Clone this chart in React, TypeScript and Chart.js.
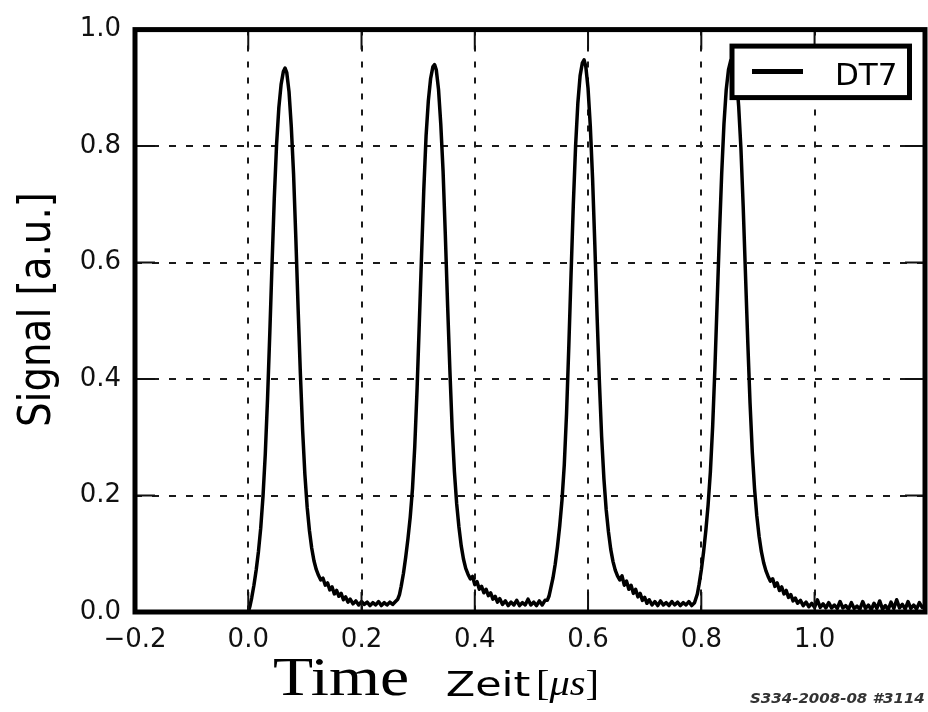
import React, { useEffect, useRef } from "react";
import { Chart, registerables } from "chart.js";

Chart.register(...registerables);

// ---- data ----
const seriesLabel = "DT7";
const xTitle = "Zeit";
const xUnit = "μs";
const xTitleExtra = "Time";
const yTitle = "Signal [a.u.]";
const stampText = "S334-2008-08 #3114";

const baseTime = [-0.2, -0.1, -0.002];
const baseSignal = [0.0, 0.0, 0.0];

const pulse1Time = [
  0.000, 0.003, 0.006,
  0.010, 0.014, 0.018, 0.022, 0.026, 0.030, 0.034, 0.038, 0.042, 0.046, 0.050, 0.054, 0.058, 0.062,
  0.065, 0.068,
  0.072, 0.076, 0.080, 0.084, 0.088, 0.092, 0.096, 0.100, 0.104, 0.108, 0.112, 0.116, 0.120, 0.124,
  0.128, 0.132, 0.136, 0.140, 0.144, 0.148, 0.152, 0.156, 0.160, 0.164, 0.168, 0.172, 0.176, 0.180,
  0.185, 0.190, 0.195, 0.200, 0.205, 0.210, 0.215, 0.220, 0.225, 0.230, 0.235, 0.240, 0.245, 0.250, 0.255, 0.260,
];
const pulse1Signal = [
  0.000, 0.010, 0.024,
  0.046, 0.072, 0.104, 0.144, 0.198, 0.270, 0.365, 0.478, 0.598, 0.712, 0.803, 0.866, 0.906, 0.928,
  0.934, 0.926,
  0.893, 0.833, 0.752, 0.642, 0.522, 0.410, 0.312, 0.236, 0.180, 0.140, 0.110, 0.088, 0.073, 0.063,
  0.055, 0.058, 0.046, 0.050, 0.038, 0.043, 0.031, 0.037, 0.027, 0.032, 0.021, 0.026, 0.017, 0.022,
  0.014, 0.019, 0.012, 0.018, 0.013, 0.017, 0.011, 0.016, 0.012, 0.018, 0.011, 0.016, 0.012, 0.017, 0.013, 0.018,
];

const pulse2Time = [
  0.264, 0.267, 0.270,
  0.274, 0.278, 0.282, 0.286, 0.290, 0.294, 0.298, 0.302, 0.306, 0.310, 0.314, 0.318, 0.322, 0.326,
  0.329, 0.332,
  0.336, 0.340, 0.344, 0.348, 0.352, 0.356, 0.360, 0.364, 0.368, 0.372, 0.376, 0.380, 0.384, 0.388,
  0.392, 0.396, 0.400, 0.404, 0.408, 0.412, 0.416, 0.420, 0.424, 0.428, 0.432, 0.436, 0.440, 0.444,
  0.449, 0.454, 0.459, 0.464, 0.469, 0.474, 0.479, 0.484, 0.489, 0.494, 0.499, 0.504, 0.509, 0.514, 0.519, 0.524,
];
const pulse2Signal = [
  0.022, 0.030, 0.044,
  0.066, 0.094, 0.126, 0.163, 0.212, 0.284, 0.380, 0.495, 0.612, 0.726, 0.818, 0.878, 0.916, 0.936,
  0.940, 0.931,
  0.897, 0.837, 0.757, 0.647, 0.527, 0.416, 0.316, 0.241, 0.186, 0.146, 0.114, 0.091, 0.075, 0.065,
  0.057, 0.061, 0.047, 0.052, 0.039, 0.044, 0.033, 0.039, 0.028, 0.033, 0.022, 0.027, 0.017, 0.023,
  0.013, 0.019, 0.011, 0.017, 0.012, 0.020, 0.011, 0.016, 0.012, 0.022, 0.012, 0.017, 0.011, 0.019, 0.012, 0.020,
];

const pulse3Time = [
  0.528, 0.531, 0.534,
  0.538, 0.542, 0.546, 0.550, 0.554, 0.558, 0.562, 0.566, 0.570, 0.574, 0.578, 0.582, 0.586, 0.590,
  0.593, 0.596,
  0.600, 0.604, 0.608, 0.612, 0.616, 0.620, 0.624, 0.628, 0.632, 0.636, 0.640, 0.644, 0.648, 0.652,
  0.656, 0.660, 0.664, 0.668, 0.672, 0.676, 0.680, 0.684, 0.688, 0.692, 0.696, 0.700, 0.704, 0.708,
  0.713, 0.718, 0.723, 0.728, 0.733, 0.738, 0.743, 0.748, 0.753, 0.758, 0.763, 0.768, 0.773, 0.778, 0.783, 0.788,
];
const pulse3Signal = [
  0.020, 0.027, 0.040,
  0.058, 0.082, 0.112, 0.148, 0.192, 0.252, 0.340, 0.455, 0.580, 0.700, 0.800, 0.874, 0.921, 0.943,
  0.948, 0.937,
  0.899, 0.834, 0.744, 0.630, 0.507, 0.396, 0.301, 0.229, 0.176, 0.138, 0.108, 0.087, 0.072, 0.062,
  0.055, 0.062, 0.046, 0.053, 0.039, 0.046, 0.032, 0.039, 0.026, 0.032, 0.020, 0.025, 0.015, 0.021,
  0.012, 0.018, 0.011, 0.019, 0.012, 0.016, 0.011, 0.018, 0.012, 0.017, 0.011, 0.016, 0.012, 0.018, 0.011, 0.016,
];

const pulse4Time = [
  0.790, 0.793, 0.796,
  0.800, 0.804, 0.808, 0.812, 0.816, 0.820, 0.824, 0.828, 0.832, 0.836, 0.840, 0.844, 0.848, 0.852,
  0.855, 0.858,
  0.862, 0.866, 0.870, 0.874, 0.878, 0.882, 0.886, 0.890, 0.894, 0.898, 0.902, 0.906, 0.910, 0.914,
  0.918, 0.922, 0.926, 0.930, 0.934, 0.938, 0.942, 0.946, 0.950, 0.954, 0.958, 0.962, 0.966, 0.970,
  0.975, 0.980, 0.985, 0.990, 0.995, 1.000, 1.005, 1.010, 1.015, 1.020, 1.025, 1.030, 1.035, 1.040, 1.045, 1.050,
  1.055, 1.060, 1.065, 1.070, 1.075, 1.080, 1.085, 1.090, 1.095, 1.100, 1.105, 1.110, 1.115, 1.120, 1.125,
  1.130, 1.135, 1.140, 1.145, 1.150, 1.155, 1.160, 1.165, 1.170, 1.175, 1.180, 1.185, 1.190, 1.195,
];
const pulse4Signal = [
  0.022, 0.031, 0.047,
  0.072, 0.103, 0.140, 0.184, 0.240, 0.318, 0.418, 0.533, 0.648, 0.753, 0.838, 0.897, 0.931, 0.947,
  0.951, 0.944,
  0.918, 0.868, 0.795, 0.695, 0.580, 0.465, 0.360, 0.275, 0.212, 0.165, 0.130, 0.104, 0.085, 0.071,
  0.061, 0.053, 0.057, 0.044, 0.050, 0.037, 0.043, 0.031, 0.037, 0.025, 0.030, 0.019, 0.024, 0.015,
  0.020, 0.011, 0.017, 0.009, 0.015, 0.008, 0.021, 0.008, 0.014, 0.007, 0.016, 0.007, 0.012, 0.006, 0.018, 0.007,
  0.011, 0.005, 0.016, 0.006, 0.010, 0.005, 0.018, 0.006, 0.012, 0.004, 0.015, 0.006, 0.019, 0.005, 0.011,
  0.004, 0.017, 0.006, 0.021, 0.007, 0.013, 0.005, 0.018, 0.006, 0.012, 0.005, 0.016, 0.008, 0.012,
];

const xMin = -0.2;
const xMax = 1.195;
const xStep = 0.2;
const yMin = 0;
const yMax = 1.0;
const yStep = 0.2;

// ---- helpers ----
const fmtTick = (v: number) => {
  if (Math.abs(v) < 1e-9) return "0.0";
  return (v < 0 ? "\u2212" : "") + Math.abs(v).toFixed(1);
};

function fitText(
  ctx: CanvasRenderingContext2D,
  text: string,
  font: string,
  x: number,
  y: number,
  width: number,
  yScale = 1
) {
  ctx.save();
  ctx.font = font;
  ctx.textAlign = "left";
  ctx.textBaseline = "alphabetic";
  const m = ctx.measureText(text);
  const ink = m.actualBoundingBoxLeft + m.actualBoundingBoxRight;
  const s = width / ink;
  ctx.translate(x, y);
  ctx.scale(s, yScale);
  ctx.fillText(text, m.actualBoundingBoxLeft, 0);
  ctx.restore();
}

const TICK_LEN = 20;

const decorPlugin = {
  id: "decor",
  afterDatasetsDraw(chart: any) {
    const { ctx, chartArea: a, scales } = chart;
    const xs = scales.x;
    const ys = scales.y;
    ctx.save();
    // inward tick marks on all four sides
    ctx.strokeStyle = "#111";
    ctx.lineWidth = 2;
    ctx.setLineDash([]);
    ctx.beginPath();
    xs.ticks.forEach((t: any) => {
      const px = xs.getPixelForValue(t.value);
      ctx.moveTo(px, a.bottom);
      ctx.lineTo(px, a.bottom - TICK_LEN);
      ctx.moveTo(px, a.top);
      ctx.lineTo(px, a.top + TICK_LEN);
    });
    ys.ticks.forEach((t: any) => {
      const py = ys.getPixelForValue(t.value);
      ctx.moveTo(a.left, py);
      ctx.lineTo(a.left + TICK_LEN, py);
      ctx.moveTo(a.right, py);
      ctx.lineTo(a.right - TICK_LEN, py);
    });
    ctx.stroke();
    // frame
    ctx.lineWidth = 5;
    ctx.strokeStyle = "#000";
    ctx.strokeRect(a.left, a.top, a.right - a.left, a.bottom - a.top);

    // legend box
    const bw = 177.5;
    const bh = 51.5;
    const bx = a.right - 15.5 - bw;
    const by = a.top + 16.5;
    ctx.fillStyle = "#fff";
    ctx.fillRect(bx, by, bw, bh);
    ctx.lineWidth = 5;
    ctx.strokeStyle = "#000";
    ctx.strokeRect(bx, by, bw, bh);
    const ds = chart.data.datasets[0];
    ctx.beginPath();
    ctx.lineWidth = 5;
    ctx.strokeStyle = ds.borderColor;
    ctx.moveTo(bx + 20, by + 25.5);
    ctx.lineTo(bx + 71, by + 25.5);
    ctx.stroke();
    ctx.fillStyle = "#000";
    ctx.font = '31px "DejaVu Sans"';
    ctx.textAlign = "left";
    ctx.textBaseline = "alphabetic";
    ctx.fillText(ds.label, bx + 103, by + 38.5);
    ctx.restore();
  },
  afterDraw(chart: any) {
    const { ctx } = chart;
    ctx.save();
    ctx.fillStyle = "#000";
    // y axis title (rotated), taller glyphs as in the reference
    ctx.save();
    ctx.translate(50, 425);
    ctx.rotate(-Math.PI / 2);
    fitText(ctx, yTitle, '38px "DejaVu Sans"', 0, 0, 230, 1.18);
    ctx.restore();

    // x titles
    fitText(ctx, xTitleExtra, '54px "Liberation Serif"', 273, 695, 135);
    fitText(ctx, xTitle, '34px "DejaVu Sans"', 447, 696, 83);

    // [μs] in serif, μs italic
    ctx.save();
    const parts = [
      { t: "[", f: '35px "Liberation Serif"' },
      { t: xUnit, f: 'italic 35px "Liberation Serif"' },
      { t: "]", f: '35px "Liberation Serif"' },
    ];
    let total = 0;
    parts.forEach((p) => {
      ctx.font = p.f;
      total += ctx.measureText(p.t).width;
    });
    const s = 63 / total;
    ctx.translate(536, 695);
    ctx.scale(s, 1);
    let cx = 0;
    ctx.textAlign = "left";
    ctx.textBaseline = "alphabetic";
    parts.forEach((p) => {
      ctx.font = p.f;
      ctx.fillText(p.t, cx, 0);
      cx += ctx.measureText(p.t).width;
    });
    ctx.restore();

    // stamp
    ctx.fillStyle = "#333";
    fitText(ctx, stampText, 'italic bold 14px "DejaVu Sans"', 750, 703, 174);
    ctx.restore();
  },
};

export default function App() {
  const ref = useRef<HTMLCanvasElement | null>(null);

  useEffect(() => {
    if (!ref.current) return;
    const times = [...baseTime, ...pulse1Time, ...pulse2Time, ...pulse3Time, ...pulse4Time];
    const signals = [...baseSignal, ...pulse1Signal, ...pulse2Signal, ...pulse3Signal, ...pulse4Signal];
    const n = Math.min(times.length, signals.length);
    const points = [] as { x: number; y: number }[];
    for (let i = 0; i < n; i++) points.push({ x: times[i], y: signals[i] });

    const tickFont = { family: "DejaVu Sans", size: 26 };
    const chart = new Chart(ref.current, {
      type: "line",
      data: {
        datasets: [
          {
            label: seriesLabel,
            data: points,
            borderColor: "#000",
            borderWidth: 3.5,
            pointRadius: 0,
            tension: 0,
            fill: false,
            borderJoinStyle: "round",
          },
        ],
      },
      options: {
        animation: false,
        responsive: false,
        events: [],
        layout: { padding: { top: 20, right: 3, left: 0, bottom: 0 } },
        plugins: { legend: { display: false }, tooltip: { enabled: false } },
        scales: {
          x: {
            type: "linear",
            min: xMin,
            max: xMax,
            afterFit: (sc: any) => {
              sc.height = 100;
            },
            ticks: {
              stepSize: xStep,
              includeBounds: false,
              padding: 13,
              color: "#111",
              font: tickFont,
              maxRotation: 0,
              autoSkip: false,
              callback: (v: any) => fmtTick(Number(v)),
            },
            grid: { color: "#1a1a1a", lineWidth: 2, drawTicks: false },
            border: { display: false, dash: [6, 10] },
          },
          y: {
            type: "linear",
            min: yMin,
            max: yMax,
            afterFit: (sc: any) => {
              sc.width = 135;
            },
            ticks: {
              stepSize: yStep,
              padding: 14,
              color: "#111",
              font: tickFont,
              callback: (v: any) => fmtTick(Number(v)),
            },
            grid: { color: "#1a1a1a", lineWidth: 2, drawTicks: false },
            border: { display: false, dash: [7, 10] },
          },
        },
      } as any,
      plugins: [decorPlugin],
    });
    return () => chart.destroy();
  }, []);

  return (
    <div style={{ position: "absolute", left: 0, top: 0, width: 928, height: 712, background: "#fff" }}>
      <canvas ref={ref} width={928} height={712} style={{ display: "block", width: 928, height: 712 }} />
    </div>
  );
}
